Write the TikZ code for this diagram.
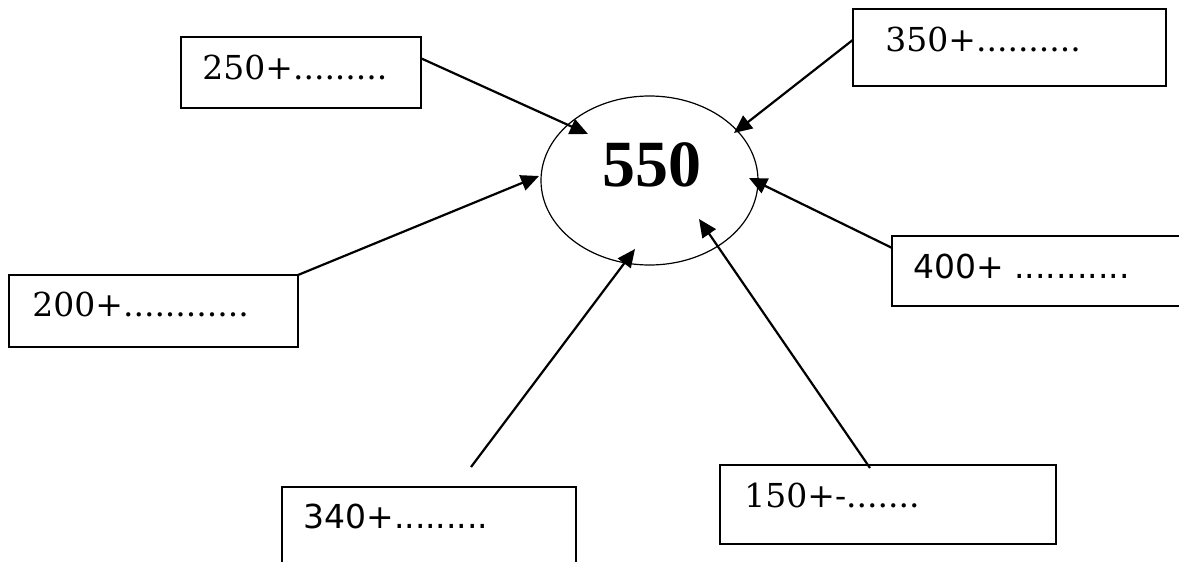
\documentclass[tikz,border=0pt]{standalone}
\usepackage{fontspec}
\setmainfont{DejaVu Serif}
\newfontfamily\boxserif{DejaVu Serif}
\newfontfamily\boxsans{DejaVu Sans}
\newfontfamily\bigserif{Liberation Serif}
\usetikzlibrary{arrows.meta,shapes.geometric,calc}
\begin{document}
\begin{tikzpicture}[x=0.5pt,y=-0.5pt,
  boxframe/.style={draw,line width=0.85pt,rectangle,anchor=north west,inner sep=0pt,outer sep=0pt},
  lbl/.style={anchor=base west,inner sep=0pt,font=\boxserif\fontsize{16.5}{19}\selectfont},
  lbls/.style={anchor=base west,inner sep=0pt,font=\boxsans\fontsize{16.5}{19}\selectfont},
  arr/.style={line width=1.1pt,-{Triangle[length=9pt,width=8pt]}}]
\useasboundingbox (0,0) rectangle (1179,562);
\fill[white] (0,0) rectangle (1179,562);
\clip (0,0) rectangle (1179,562);
% boxes
\node[boxframe,minimum width=120pt,minimum height=35.5pt] (b250) at (181,37) {};
\node[boxframe,minimum width=156.5pt,minimum height=38.5pt] (b350) at (853,9) {};
\node[boxframe,minimum width=160pt,minimum height=35pt] (b400) at (892,236) {};
\node[boxframe,minimum width=144.5pt,minimum height=36pt] (b200) at (9,275) {};
\node[boxframe,minimum width=147pt,minimum height=50pt] (b340) at (282,487) {};
\node[boxframe,minimum width=168pt,minimum height=39.5pt] (b150) at (720,465) {};
% labels
\node[lbl] (t250) at (202,79) {250+.........};
\node[lbl] (t350) at (885,51) {350+..........};
\node[lbls] (t400) at (913,278) {400+ ...........};
\node[lbl] (t200) at (32,316) {200+............};
\node[lbls] (t340) at (303,528) {340+.........};
\node[lbl] (t150) at (744,507) {150+-.......};
% centre
\node[draw,ellipse,line width=0.6pt,inner sep=0pt,minimum width=108.5pt,minimum height=84.5pt] (c) at (649.5,180.5) {};
\node[inner sep=0pt,font=\bigserif\bfseries\fontsize{33}{36}\selectfont] (t550) at (652,165) {550};
% arrow tips and free ends
\coordinate (p250) at (588,134);
\coordinate (p350) at (734,133);
\coordinate (p400) at (749,178);
\coordinate (p200) at (539,176);
\coordinate (p340) at (635,249);
\coordinate (p150) at (699,219);
\coordinate (s340) at (471,467);
\coordinate (s150) at (870,468);
% connectors
\draw[arr] ($(b250.north east)!0.3!(b250.south east)$) -- (p250);
\draw[arr] ($(b350.north west)!0.4!(b350.south west)$) -- (p350);
\draw[arr] ($(b400.north west)!0.17!(b400.south west)$) -- (p400);
\draw[arr] (b200.north east) -- (p200);
\draw[arr] (s340) -- (p340);
\draw[arr] (s150) -- (p150);
\end{tikzpicture}
\end{document}
